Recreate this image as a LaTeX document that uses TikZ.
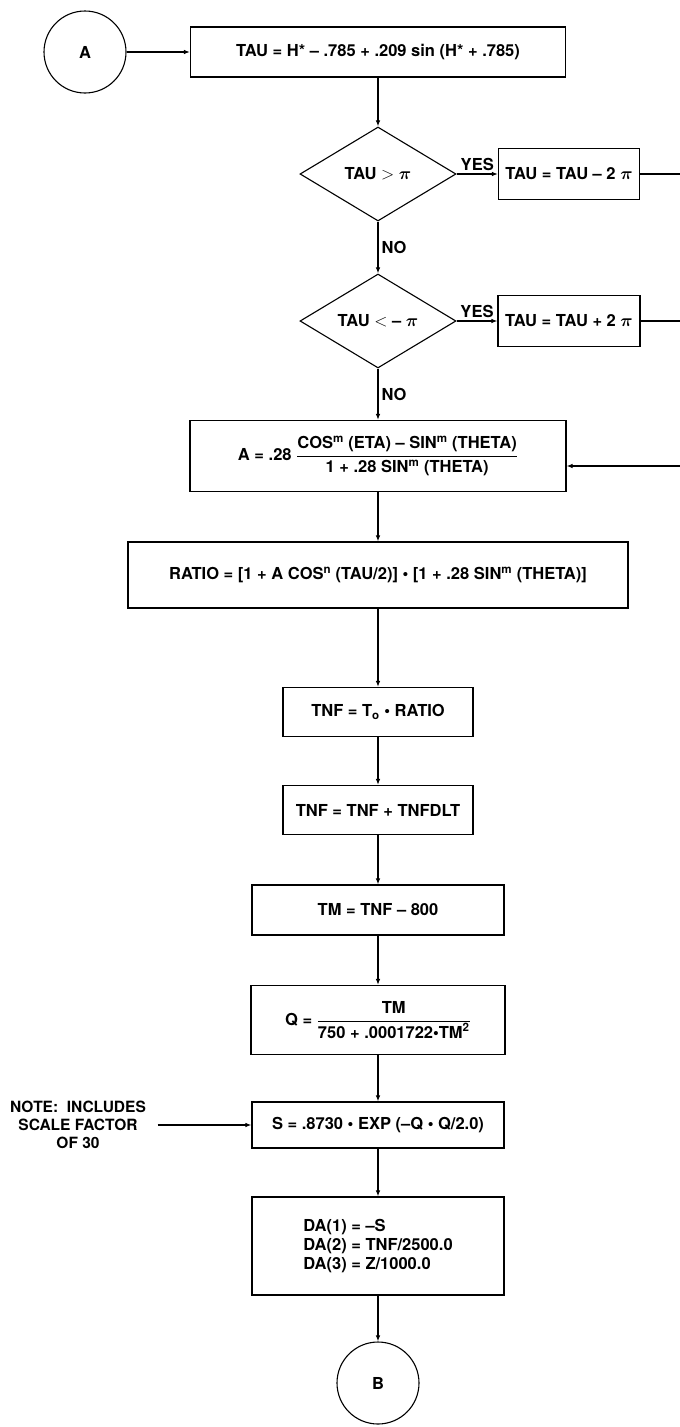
\documentclass[tikz,border=0pt]{standalone}
\usepackage{amsmath}
\usepackage{fontspec}
\setmainfont{TeX Gyre Heros}
\usetikzlibrary{shapes.geometric,arrows.meta}

\begin{document}
\begin{tikzpicture}[x=1pt,y=1pt,line width=1.1pt,
    font=\bfseries\fontsize{16.5}{19}\selectfont,
    box/.style={draw,rectangle,inner sep=0pt},
    decision/.style={draw,diamond,aspect=1.66,inner sep=0pt,minimum width=156pt,minimum height=94pt},
    term/.style={draw,circle,inner sep=0pt,minimum size=82pt},
    flow/.style={-{Latex[length=6pt,width=4.5pt]}},
    answer/.style={inner sep=3pt}]
    \useasboundingbox (0,0) rectangle (680,-1427);

    \node[term] (A) at (85,-52) {A};
    \node[box,minimum width=375pt,minimum height=50pt] (tau) at (378,-52) {TAU = H* -- .785 + .209 sin (H* + .785)};

    \node[decision] (gt) at (378,-174) {TAU $>$ $\boldsymbol{\pi}$};
    \node[box,minimum width=141pt,minimum height=51pt] (sub) at (569,-174) {TAU = TAU -- 2 $\boldsymbol{\pi}$};
    \node[decision] (lt) at (378,-321) {TAU $<$ -- $\boldsymbol{\pi}$};
    \node[box,minimum width=142pt,minimum height=51pt] (add) at (569,-321) {TAU = TAU + 2 $\boldsymbol{\pi}$};

    \coordinate (r1) at (680,-174);
    \coordinate (r2) at (680,-321);
    \coordinate (r3) at (680,-466);

    \node[box,minimum width=376pt,minimum height=71pt] (abox) at (378,-456) {$\text{A = .28 }\dfrac{\text{COS\textsuperscript{m} (ETA) -- SIN\textsuperscript{m} (THETA)}}{\text{1 + .28 SIN\textsuperscript{m} (THETA)}}$};
    \node[box,minimum width=500pt,minimum height=66pt] (ratio) at (378,-575) {RATIO = [1 + A COS\textsuperscript{n} (TAU/2)] \textbullet{} [1 + .28 SIN\textsuperscript{m} (THETA)]};
    \node[box,minimum width=190pt,minimum height=49pt] (tnf) at (378,-712) {TNF = T\textsubscript{o} \textbullet{} RATIO};
    \node[box,minimum width=190pt,minimum height=49pt] (tnfd) at (378,-810) {TNF = TNF + TNFDLT};
    \node[box,minimum width=252pt,minimum height=50pt] (tm) at (378,-910) {TM = TNF -- 800};
    \node[box,minimum width=254pt,minimum height=69pt] (q) at (378,-1020) {$\text{Q = }\dfrac{\text{TM}}{\text{750 + .0001722\textbullet TM\textsuperscript{2}}}$};
    \node[box,minimum width=252pt,minimum height=46pt] (s) at (378,-1125) {S = .8730 \textbullet{} EXP (--Q \textbullet{} Q/2.0)};
    \node[box,minimum width=252pt,minimum height=98pt,align=left] (da) at (378,-1246) {DA(1) = --S\\DA(2) = TNF/2500.0\\DA(3) = Z/1000.0};
    \node[term] (B) at (378,-1383) {B};

    \node[align=center,font=\bfseries\fontsize{15.5}{18}\selectfont] (note) at (78,-1125) {NOTE:\ \ INCLUDES\\SCALE FACTOR\\OF 30};

    \draw[flow] (A) -- (tau);
    \draw[flow] (tau) -- (gt);
    \draw[flow] (gt) -- node[above,answer] {YES} (sub);
    \draw[flow] (gt) -- node[right,answer] {NO} (lt);
    \draw[flow] (lt) -- node[above,answer] {YES} (add);
    \draw[flow] (lt) -- node[right,answer] {NO} (abox);
    \draw (sub) -- (r1);
    \draw (add) -- (r2);
    \draw[flow] (r3) -- (r3 -| abox.east);
    \draw[flow] (abox) -- (ratio);
    \draw[flow] (ratio) -- (tnf);
    \draw[flow] (tnf) -- (tnfd);
    \draw[flow] (tnfd) -- (tm);
    \draw[flow] (tm) -- (q);
    \draw[flow] (q) -- (s);
    \draw[flow] (s) -- (da);
    \draw[flow] (da) -- (B);
    \draw[flow,shorten <=8pt] (note) -- (s);
\end{tikzpicture}
\end{document}
